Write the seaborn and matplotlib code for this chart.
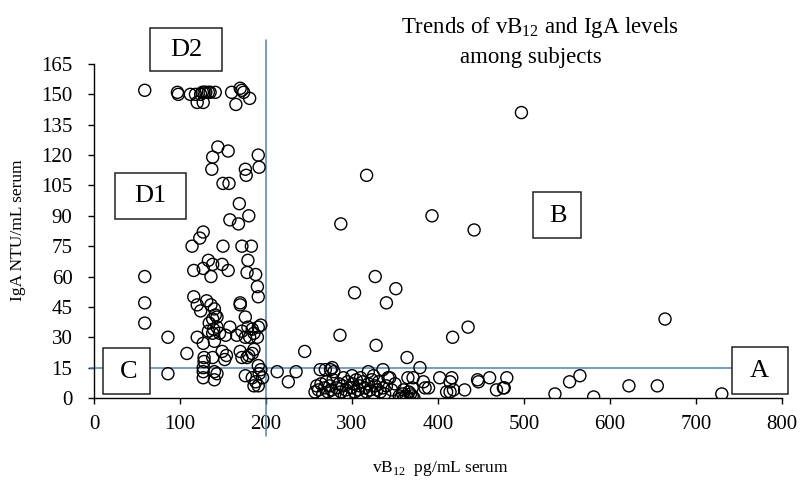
import matplotlib
matplotlib.use("Agg")
import matplotlib.pyplot as plt
from matplotlib.patches import Rectangle
import pandas as pd
import seaborn as sns

# --- valores (vB12 pg/mL, IgA NTU/mL) ---
vb12 = [
    59, 97, 98, 112, 118, 120, 124, 126, 127, 128, 130, 133, 135, 141, 160, 165, 170, 172, 174, 181,
    144, 138, 156, 137, 191, 192, 176, 177, 150, 157,
    169, 180, 158, 168, 127, 123, 114, 150, 172, 183, 179, 133, 138, 149, 156, 116, 127, 136, 178, 188, 190, 191,
    59, 59, 59, 86, 86, 108,
    116, 120, 124, 131, 136, 140, 143, 138, 134, 143, 133, 138, 146, 153, 158, 120, 127, 140, 170, 170,
    176, 172, 179, 184, 191, 194, 181, 190, 176, 166, 186, 141, 139,
    128, 138, 149, 154, 152, 170, 172, 178, 184, 186, 180, 128,
    127, 127, 127, 140, 140, 143, 191, 194, 192, 196, 176, 184, 188, 186, 191, 213, 226, 235,
    497, 664, 317, 287, 393, 442, 327, 303, 351, 340, 286, 328, 245, 364, 417, 435, 379,
    263, 269, 277, 279, 275, 319, 336, 344, 342,
    257, 259, 261, 264, 266, 268, 270, 272, 274, 276, 278, 280, 282, 285, 287, 289, 291, 293, 295, 297,
    299, 301, 303, 305, 307, 309, 311, 313, 315, 317, 319, 321, 323, 325, 327, 329, 331, 333, 336, 338,
    340, 346, 350, 300, 310, 290, 325,
    355, 357, 359, 361, 363, 365, 368, 370, 372, 360, 366, 365, 370, 371,
    385, 389, 402, 410, 414, 414, 416, 418, 431, 447, 446, 460, 468, 476, 480, 477, 383,
    536, 553, 565, 581, 622, 655, 730,
]
iga = [
    152, 151, 150, 150, 150, 146, 150, 151, 146, 151, 151, 151, 151, 151, 151, 145, 153, 152, 151, 148,
    124, 119, 122, 113, 120, 114, 113, 110, 106, 106,
    96, 90, 88, 86, 82, 79, 75, 75, 75, 75, 68, 68, 66, 66, 63, 63, 64, 60, 62, 61, 55, 50,
    60, 47, 37, 30, 12, 22,
    50, 46, 43, 48, 46, 44, 40, 39, 37, 35, 33, 32, 32, 31, 35, 30, 27, 28, 46, 47,
    40, 33, 35, 34, 35, 36, 30, 30, 30, 31, 32, 41, 34,
    20, 20, 23, 21, 19, 23, 20, 20, 22, 24, 21, 18,
    15, 13, 10, 13, 9, 12, 16, 14, 12, 10, 11, 10, 8, 6, 6, 13, 8, 13,
    141, 39, 110, 86, 90, 83, 60, 52, 54, 47, 31, 26, 23, 20, 30, 35, 15,
    14, 14, 15, 13, 14, 13, 14, 10, 10,
    3, 6, 4, 7, 2, 5, 8, 3, 6, 4, 9, 2, 5, 7, 3, 6, 1, 4, 8, 2,
    5, 7, 3, 9, 4, 6, 2, 8, 5, 3, 7, 4, 9, 2, 6, 4, 8, 3, 5, 2,
    6, 4, 7, 11, 10, 10, 11,
    1, 0, 2, 0, 1, 0, 2, 1, 0, 4, 3, 10, 5, 10,
    5, 5, 10, 3, 8, 3, 10, 4, 4, 8, 9, 10, 4, 5, 10, 5, 8,
    2, 8, 11, 0.5, 6, 6, 2,
]
y_ticks = list(range(0, 166, 15))
x_ticks = list(range(0, 801, 100))

df = pd.DataFrame({"vb12": vb12, "iga": iga})

sns.set_theme(style="ticks")
plt.rcParams["font.family"] = ["Liberation Serif", "DejaVu Serif"]
plt.rcParams["mathtext.fontset"] = "custom"
plt.rcParams["mathtext.rm"] = "Liberation Serif"
plt.rcParams["text.color"] = "black"

fig = plt.figure(figsize=(8, 4.84), dpi=100)
ax = fig.add_axes([0.1175, 0.1777, 0.86, 0.6901])

sns.scatterplot(data=df, x="vb12", y="iga", ax=ax, marker="o", s=75,
                facecolor="none", edgecolor="black", linewidth=1.0, zorder=3)

ax.set_xlim(0, 800)
ax.set_ylim(0, 165)
ax.set_xticks(x_ticks)
ax.set_yticks(y_ticks)
ax.tick_params(labelsize=15, length=4.5, width=1, color="black", labelcolor="black")
ax.tick_params(axis="y", pad=11)
ax.tick_params(axis="x", pad=8)
for side in ["top", "right"]:
    ax.spines[side].set_visible(False)
for side in ["left", "bottom"]:
    ax.spines[side].set_color("black")
    ax.spines[side].set_linewidth(1)
ax.set_xlabel("")
ax.set_ylabel("")

# linhas de corte (azul)
blue = "#4f81bd"
ax.plot([200, 200], [-19, 177], color=blue, lw=1.1, clip_on=False, zorder=2)
ax.plot([-5, 790], [15, 15], color=blue, lw=1.1, clip_on=False, zorder=2)

# caixas de rótulos
caixas = [
    ("D2", 65, 161.6, 84, 21.2, 107, 172),
    ("D1", 24.4, 88.4, 82.6, 22.8, 66, 100),
    ("C", 10.5, 2.0, 54.5, 22.7, 40, 13),
    ("A", 742, 2.0, 65, 23.2, 774, 13.5),
    ("B", 510, 79, 56, 22.8, 540, 90),
]
for rotulo, x0, y0, w, h, tx, ty in caixas:
    ax.add_patch(Rectangle((x0, y0), w, h, facecolor="white", edgecolor="#222222",
                           lw=1.1, clip_on=False, zorder=5))
    ax.text(tx, ty, rotulo, ha="center", va="center", fontsize=19,
            clip_on=False, zorder=6)

fig.text(540 / 800, 1 - 27 / 484, "Trends of vB$_{\\mathrm{12}}$ and IgA levels",
         ha="center", va="center", fontsize=16.5)
fig.text(531 / 800, 1 - 57 / 484, "among subjects", ha="center", va="center", fontsize=16.5)
fig.text(440 / 800, 1 - 468 / 484, "vB$_{\\mathrm{12}}$  pg/mL serum",
         ha="center", va="center", fontsize=12.5)
fig.text(18 / 800, 1 - 230 / 484, "IgA NTU/mL serum", ha="center", va="center",
         rotation=90, fontsize=12.5)

fig.savefig("out.png", dpi=100)
